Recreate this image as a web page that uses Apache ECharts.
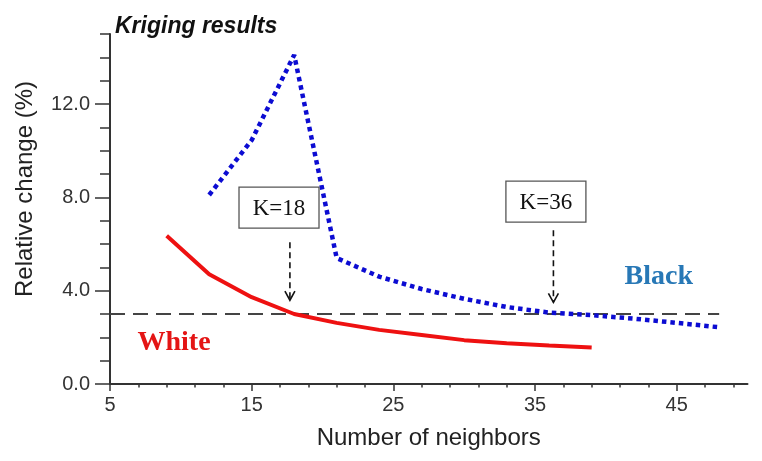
<!DOCTYPE html>
<html><head><meta charset="utf-8">
<script src="https://cdn.jsdelivr.net/npm/echarts@6/dist/echarts.min.js"></script>
<style>html,body{margin:0;padding:0;background:#fff}#c{width:762px;height:461px}</style>
</head><body><div id="c"></div>
<script>
const whiteX = [9, 12, 15, 18, 21, 24, 27, 30, 33, 36, 39];
const whiteY = [6.35, 4.7, 3.72, 3.0, 2.62, 2.32, 2.1, 1.88, 1.75, 1.65, 1.56];
const blackX = [12, 15, 18, 21, 24, 27, 30, 33, 36, 39, 42, 45, 48];
const blackY = [8.1, 10.45, 14.1, 5.4, 4.6, 4.07, 3.65, 3.3, 3.06, 2.95, 2.8, 2.62, 2.43];
const thresholdX = [5, 48];
const thresholdY = [3, 3];
const xLabelTicks = [5, 15, 25, 35, 45];
const xMinorTicks = [7, 9, 11, 13, 17, 19, 21, 23, 27, 29, 31, 33, 37, 39, 41, 43, 47, 49];
const yLabelTicks = [0, 4, 8, 12];
const yMinorTicks = [1, 2, 3, 5, 6, 7, 9, 10, 11, 13, 14, 15];
const kLabels = ['K=18', 'K=36'];
const kBoxX = [16.93, 35.77];
const kBoxY = [7.56, 7.82];
const kArrowX = [17.7, 36.3];
const kArrowTop = [6.08, 6.59];
const kArrowTip = [3.59, 3.50];
const groupNames = ['White', 'Black'];
const groupLabelX = [9.52, 43.74];
const groupLabelY = [1.75, 4.58];

const groupColors = ['#e41515', '#2878b6'];
const axisColor = '#333';
const sans = '"Liberation Sans", Arial, sans-serif';
const serif = '"Liberation Serif", "Times New Roman", serif';

const chart = echarts.init(document.getElementById('c'), null, {renderer: 'canvas'});

function renderK(params, api) {
  const i = params.dataIndex;
  const c = api.coord([api.value(0), api.value(1)]);
  const top = api.coord([api.value(2), api.value(3)]);
  const tip = api.coord([api.value(2), api.value(4)]);
  return {
    type: 'group',
    children: [
      {type: 'rect', shape: {x: c[0] - 40, y: c[1] - 20.5, width: 80, height: 41},
       style: {fill: '#fff', stroke: '#555', lineWidth: 1.3}},
      {type: 'text', style: {text: kLabels[i], x: c[0], y: c[1] + 1, align: 'center', textAlign: 'center',
        verticalAlign: 'middle', textVerticalAlign: 'middle', font: '23px ' + serif, fill: '#111'}},
      {type: 'line', shape: {x1: top[0], y1: top[1], x2: tip[0], y2: tip[1]},
       style: {stroke: '#111', lineWidth: 1.6, lineDash: [6, 4]}},
      {type: 'polyline', shape: {points: [[tip[0] - 5, tip[1] - 9], [tip[0], tip[1]], [tip[0] + 5, tip[1] - 9]]},
       style: {stroke: '#111', lineWidth: 1.6, fill: null}}
    ]
  };
}

function renderGroupLabel(params, api) {
  const i = params.dataIndex;
  const p = api.coord([api.value(0), api.value(1)]);
  return {type: 'text', style: {text: groupNames[i], x: p[0], y: p[1], align: 'center', textAlign: 'center',
    verticalAlign: 'middle', textVerticalAlign: 'middle', font: 'bold 28px ' + serif, fill: groupColors[i]}};
}

const option = {
  animation: false,
  backgroundColor: '#fff',
  title: {text: 'Kriging results', left: 110, top: 10,
    textStyle: {fontSize: 23, fontWeight: 'bold', fontStyle: 'italic', fontFamily: sans, color: '#111'}},
  grid: {left: 110, right: 14.5, top: 34, bottom: 77},
  graphic: [{type: 'text', x: 25, y: 189, rotation: Math.PI / 2,
    style: {text: 'Relative change (%)', align: 'center', textAlign: 'center', verticalAlign: 'middle',
      textVerticalAlign: 'middle', font: '24px ' + sans, fill: '#222'}}],
  xAxis: [
    {type: 'value', min: 5, max: 50, position: 'bottom',
     axisLine: {show: true, onZero: false, lineStyle: {color: axisColor, width: 2}},
     axisTick: {show: true, customValues: xLabelTicks, length: 7, lineStyle: {color: axisColor, width: 1.5}},
     axisLabel: {show: true, customValues: xLabelTicks, fontSize: 20, color: '#333', margin: 11, fontFamily: sans},
     splitLine: {show: false},
     name: 'Number of neighbors', nameLocation: 'middle', nameGap: 42,
     nameTextStyle: {fontSize: 24, color: '#222', fontFamily: sans}},
    {type: 'value', min: 5, max: 50, position: 'bottom',
     axisLine: {show: false, onZero: false},
     axisTick: {show: true, customValues: xMinorTicks, length: 3.5, lineStyle: {color: axisColor, width: 1.5}},
     axisLabel: {show: false}, splitLine: {show: false}}
  ],
  yAxis: [
    {type: 'value', min: 0, max: 15, position: 'left',
     axisLine: {show: true, onZero: false, lineStyle: {color: axisColor, width: 2}},
     axisTick: {show: true, customValues: yLabelTicks, length: 15, lineStyle: {color: axisColor, width: 1.5}},
     axisLabel: {show: true, customValues: yLabelTicks, formatter: v => Number(v).toFixed(1),
       fontSize: 20, color: '#333', margin: 20, fontFamily: sans},
     splitLine: {show: false}},
    {type: 'value', min: 0, max: 15, position: 'left',
     axisLine: {show: false, onZero: false},
     axisTick: {show: true, customValues: yMinorTicks, length: 10, lineStyle: {color: axisColor, width: 1.5}},
     axisLabel: {show: false}, splitLine: {show: false}}
  ],
  series: [
    {type: 'line', name: 'Threshold', data: thresholdX.map((x, i) => [x, thresholdY[i]]),
     symbol: 'none', lineStyle: {color: '#444', width: 2, type: [15, 8]}, z: 1, silent: true},
    {type: 'line', name: 'White', data: whiteX.map((x, i) => [x, whiteY[i]]),
     symbol: 'none', lineStyle: {color: '#ee1111', width: 4}, z: 3},
    {type: 'line', name: 'Black', data: blackX.map((x, i) => [x, blackY[i]]),
     symbol: 'none', lineStyle: {color: '#0c0cd2', width: 4.5, type: [4.5, 4], cap: 'butt'}, z: 3},
    {type: 'custom', name: 'K annotations', renderItem: renderK, clip: false, z: 4,
     encode: {x: [0, 2], y: [1, 3, 4]},
     data: kLabels.map((_, i) => [kBoxX[i], kBoxY[i], kArrowX[i], kArrowTop[i], kArrowTip[i]])},
    {type: 'custom', name: 'Group labels', renderItem: renderGroupLabel, clip: false, z: 4,
     encode: {x: 0, y: 1},
     data: groupNames.map((_, i) => [groupLabelX[i], groupLabelY[i]])}
  ]
};
chart.setOption(option);
</script>
</body></html>
